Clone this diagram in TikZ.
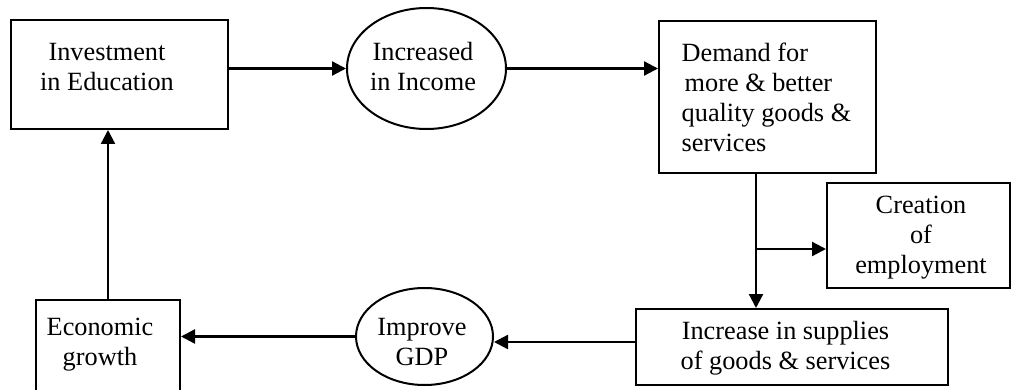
\documentclass[tikz,border=0pt]{standalone}
\usepackage{fontspec}
\setmainfont{Liberation Serif}
\usetikzlibrary{arrows.meta,shapes.geometric}
\begin{document}
\begin{tikzpicture}[x=1pt,y=-1pt,
  shapebox/.style={draw,line width=2pt,rectangle,inner sep=0pt},
  shapeoval/.style={draw,line width=2pt,ellipse,inner sep=0pt},
  txt/.style={inner sep=0pt,align=center,font=\fontsize{26.3}{30}\selectfont},
  arr/.style={line width=2.3pt,-{Triangle[length=14pt,width=14pt]}}]
\useasboundingbox (0,0) rectangle (1011,390);

% frames
\node[shapebox,minimum width=217pt,minimum height=109pt] (inv) at (119.5,74.5) {};
\node[shapeoval,minimum width=159pt,minimum height=121pt] (inc) at (426.5,68.5) {};
\node[shapebox,minimum width=217pt,minimum height=152pt] (dem) at (767.5,97) {};
\node[shapebox,minimum width=183pt,minimum height=105pt] (cre) at (918.5,235.5) {};
\node[shapebox,minimum width=312pt,minimum height=76pt] (sup) at (792,347) {};
\node[shapeoval,minimum width=137pt,minimum height=97pt] (gdp) at (424.5,336.5) {};
\node[shapebox,minimum width=144pt,minimum height=93pt] (eco) at (108,346.5) {};

% labels
\node[txt] (invT) at (107,67.4) {Investment\\in Education};
\node[txt] (incT) at (423,67) {Increased\\in Income};
\node[txt,align=left,anchor=west] (demT) at (681.5,97) {Demand for\\\hspace*{3pt}more \& better\\quality goods \&\\services};
\node[txt] (creT) at (921,238) {Creation\\of\\employment};
\node[txt] (supT) at (785.5,348) {Increase in supplies\\of goods \& services};
\node[txt] (gdpT) at (422,342.4) {Improve\\GDP};
\node[txt] (ecoT) at (100,345) {Economic\\growth};

% connectors
\coordinate (split) at (756,249);
\draw[arr] (inc.west -| inv.east) -- (inc.west);
\draw[arr] (inc.east) -- (inc.east -| dem.west);
\draw[arr] (dem.south -| split) -- (sup.north -| split);
\draw[arr] (split) -- (split -| cre.west);
\draw[arr] ([yshift=-5.5pt]gdp.east -| sup.west) -- ([yshift=-5.5pt]gdp.east);
\draw[arr] (gdp.west) -- (gdp.west -| eco.east);
\draw[arr] (eco.north) -- (eco.north |- inv.south);
\end{tikzpicture}
\end{document}
